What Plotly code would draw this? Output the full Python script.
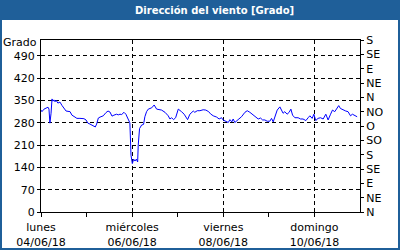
import plotly.graph_objects as go
import pandas as pd

# --- data ---
hours = [0, 0.5, 1.6, 2.6, 3.7, 4.2, 4.7, 5.3, 5.8, 6.3, 6.8, 7.4, 7.9, 8.9, 10, 11.1, 12.1, 13.2,
         15.3, 16.3, 17.9, 18.9, 20.5, 22.6, 23.7, 24.7, 25.8, 26.8, 27.9, 28.6, 29.3, 30.2, 31.1,
         32.8, 34.2, 35.3, 36.3, 37.4, 38.4, 39.8, 40.7, 41.6, 42.5, 43.7, 44.7, 45.9, 46.8, 47.4,
         48.1, 48.8, 49.5, 50.2, 50.9, 51.2, 51.9, 53, 54, 54.7, 55.6, 56.5, 58.3, 59.6, 60.9,
         63.5, 65.3, 67, 67.9, 68.8, 69.8, 70.9, 72.3, 74, 75.4, 77.2, 78.4, 80.2, 81, 82.3, 83.7,
         85.4, 86.8, 88.3, 89.3, 90.7, 92.5, 93.8, 95.1, 95.9, 97.4, 98.6, 99.5, 100.5, 101.2,
         102.1, 103.8, 105.6, 107.4, 108.6, 110, 111.4, 112.6, 114.4, 115.6, 116.7, 117.9, 119.1,
         120.5, 121.4, 122.3, 123.2, 124.4, 125.8, 126.7, 127.5, 128.4, 129.6, 130.7, 131.6,
         132.5, 133.7, 135.4, 136.7, 138, 139.5, 140.7, 141.6, 142.8, 143.7, 144.7, 145.9, 147.2,
         148.6, 150, 151.2, 152.5, 153.5, 154.7, 155.6, 156.8, 157.7, 159.1, 160.5, 161.7, 163,
         164, 165.3, 166.5]
direction = [320, 315, 323, 325, 329, 323, 279, 310, 355, 348, 352, 346, 351, 342, 345, 334, 325, 317,
             315, 304, 298, 294, 294, 293, 289, 279, 276, 273, 270, 267, 276, 295, 298,
             302, 312, 317, 314, 301, 304, 307, 305, 307, 306, 313, 307, 294, 280, 178,
             152, 166, 160, 166, 157, 210, 262, 273, 275, 299, 315, 323, 327, 336, 323,
             320, 313, 302, 292, 296, 290, 296, 323, 315, 307, 290, 307, 317, 313, 318, 318,
             321, 320, 315, 308, 302, 298, 292, 296, 289, 283, 281, 290, 283, 292,
             281, 290, 299, 313, 318, 313, 307, 302, 292, 295, 289, 289, 285,
             285, 294, 283, 302, 320, 330, 320, 310, 315, 307, 313, 323,
             304, 296, 296, 292, 292, 287, 296, 302, 294, 307, 287, 294, 296,
             292, 307, 289, 307, 320, 315, 325, 334, 325, 320, 317, 315, 302,
             307, 304, 299]

start = pd.Timestamp("2018-06-04 00:00")
end = pd.Timestamp("2018-06-11 00:00")
times = [start + pd.Timedelta(hours=h) for h in hours]

x_tick_dates = ["2018-06-04", "2018-06-06", "2018-06-08", "2018-06-10"]
x_tick_text = ["lunes<br>04/06/18", "miércoles<br>06/06/18", "viernes<br>08/06/18", "domingo<br>10/06/18"]
x_minor_dates = ["2018-06-05", "2018-06-07", "2018-06-09"]
left_ticks = [0, 70, 140, 210, 280, 350, 420, 490]
right_ticks = [0, 45, 90, 135, 180, 225, 270, 315, 360, 405, 450, 495, 540]
right_labels = ["N", "NE", "E", "SE", "S", "SO", "O", "NO", "N", "NE", "E", "SE", "S"]
title_text = "Dirección del viento [Grado]"
unit_text = "Grado"

BLUE = "#1f5f99"
FONT = "DejaVu Sans"

fig = go.Figure()
fig.add_trace(go.Scatter(x=times, y=direction, mode="lines",
                         line=dict(color="#0000ff", width=1), showlegend=False))
# invisible trace for right axis
fig.add_trace(go.Scatter(x=[start], y=[0], yaxis="y2", mode="markers",
                         marker=dict(opacity=0), showlegend=False, hoverinfo="skip"))

L, R, T, B = 41, 40, 40, 38
W, H = 400, 250
pw, ph = W - L - R, H - T - B

def px(x):
    return (x - L) / pw

def py(y):
    return (H - B - y) / ph

fig.update_layout(
    width=W, height=H,
    margin=dict(l=L, r=R, t=T, b=B, pad=0, autoexpand=False),
    paper_bgcolor="white", plot_bgcolor="white",
    font=dict(family=FONT, size=10, color="black"),
    xaxis=dict(type="date", range=[start, end], tickvals=x_tick_dates, ticktext=x_tick_text,
               showgrid=True, gridcolor="black", griddash="4px,3px", gridwidth=1,
               showline=True, linecolor="black", linewidth=1, mirror=True,
               ticks="outside", ticklen=4, tickcolor="black", ticklabelstandoff=1,
               tickfont=dict(size=11), automargin=False,
               minor=dict(tickvals=x_minor_dates, ticks="outside",
                          ticklen=4, tickcolor="black", showgrid=False),
               zeroline=False, fixedrange=True),
    yaxis=dict(range=[0, 540], tickvals=left_ticks, showgrid=True, gridcolor="black",
               griddash="4px,3px", gridwidth=1, showline=True, linecolor="black", linewidth=1,
               ticks="outside", ticklen=3, tickcolor="black", zeroline=False,
               tickfont=dict(size=11), automargin=False),
    yaxis2=dict(range=[0, 540], overlaying="y", side="right", tickvals=right_ticks,
                ticktext=right_labels, showgrid=False, showline=True, linecolor="black",
                linewidth=1, ticks="outside", ticklen=3, tickcolor="black", zeroline=False,
                tickfont=dict(size=11), automargin=False),
    shapes=[
        dict(type="rect", xref="paper", yref="paper", x0=px(0), x1=px(W), y0=py(20), y1=py(0),
             fillcolor=BLUE, line=dict(width=0), layer="below"),
        dict(type="rect", xref="paper", yref="paper", x0=px(1), x1=px(W - 1), y0=py(H - 1), y1=py(1),
             line=dict(color=BLUE, width=2), fillcolor="rgba(0,0,0,0)"),
    ],
    annotations=[
        dict(text="<b>" + title_text + "</b>", xref="paper", yref="paper", x=px(214), y=py(10.5),
             xanchor="center", yanchor="middle", showarrow=False,
             font=dict(family=FONT, size=10, color="white")),
        dict(text=unit_text, xref="paper", yref="paper", x=px(39), y=py(50.5),
             xanchor="right", yanchor="bottom", showarrow=False,
             font=dict(family=FONT, size=11, color="black")),
    ],
)

fig.write_html("out.html")
